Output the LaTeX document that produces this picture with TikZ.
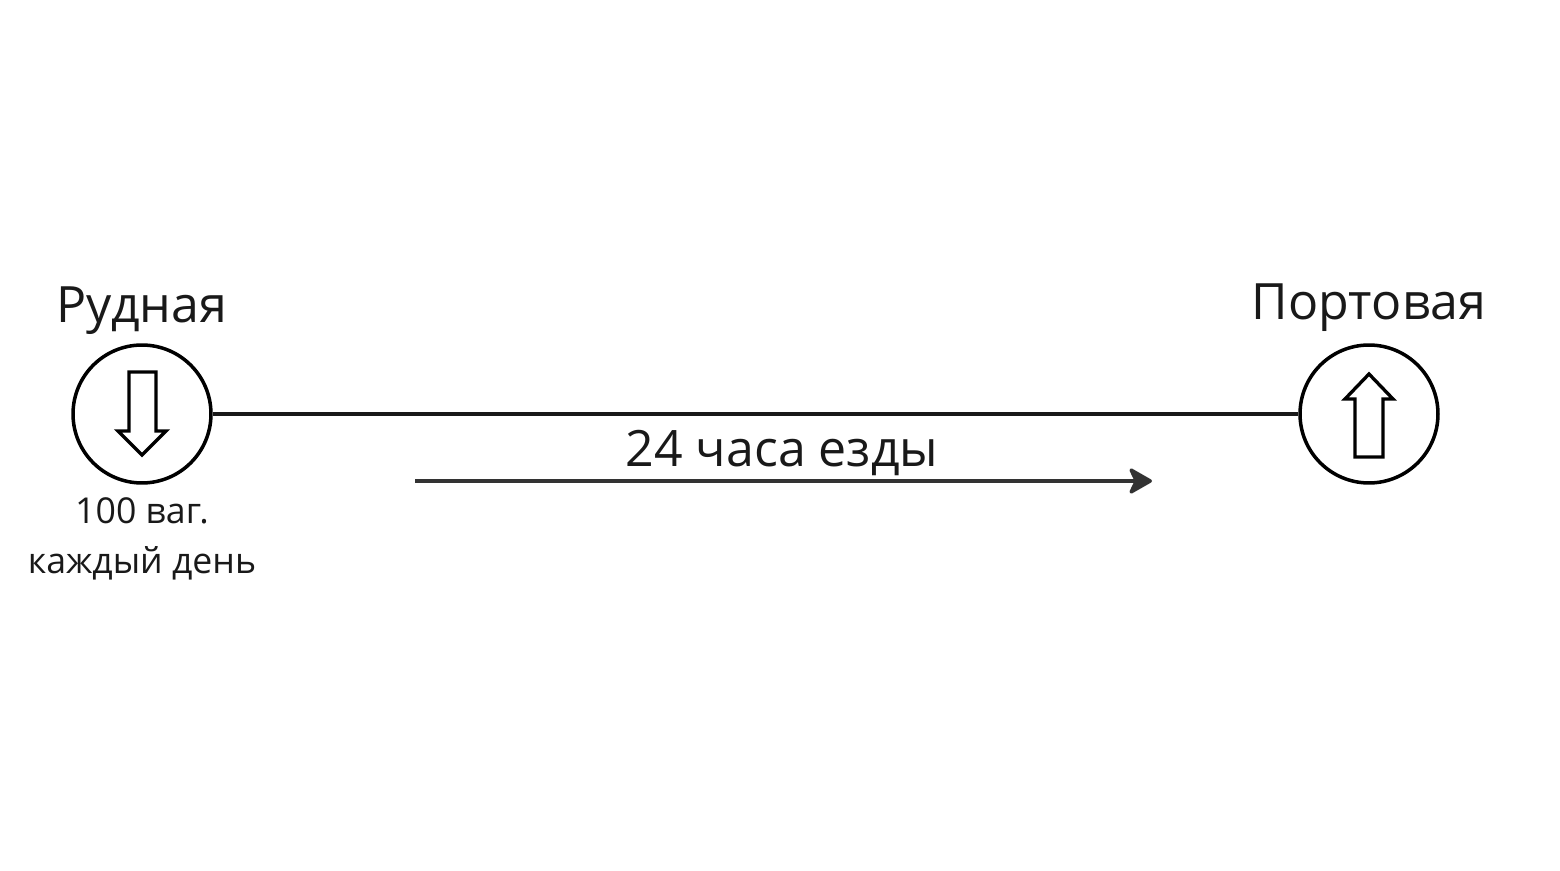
\documentclass[tikz,border=0pt]{standalone}
\usepackage{fontspec}
\setmainfont{Open Sans}
\usetikzlibrary{arrows.meta}

\begin{document}
\begin{tikzpicture}[x=0.02cm,y=-0.02cm]
\tikzset{
  station/.style={draw=black,line width=2pt,circle,minimum size=2.76cm,inner sep=0pt},
  bigname/.style={inner sep=0pt,text=black!90,font=\fontsize{28.5}{32}\selectfont},
  smalltext/.style={inner sep=0pt,align=center,text=black!90,font=\fontsize{20.3}{28.5}\selectfont},
  blockarrow/.style={draw=black,line width=1.9pt,line join=miter}
}
\useasboundingbox (0,0) rectangle (1560,871);
% stations
\node[station] (rud) at (142,414) {};
\node[station] (port) at (1369,414) {};
\node[bigname] (rudname) at (142,311) {Рудная};
\node[bigname] (portname) at (1369,308) {Портовая};
\node[smalltext] (load) at (142,539) {100 ваг.\\каждый день};
% track
\draw [black!90,line width=2pt] (rud.east) -- (port.west);
% travel time
\node[bigname] (time) at (782,453) {24 часа езды};
\coordinate (trip0) at (415,481);
\coordinate (trip1) at (1152,481);
\draw [black!80,line width=2pt,-{Stealth[length=15pt,width=17pt,inset=4pt,round]}] (trip0) -- (trip1);
% unloading / loading marks
\draw [blockarrow] (129,372) -- (156,372) -- (156,431) -- (166,431) -- (142,455)
  -- (118,431) -- (129,431) -- cycle;
\draw [blockarrow] (1369,374) -- (1393,399) -- (1383,399) -- (1383,457) -- (1355,457)
  -- (1355,399) -- (1345,399) -- cycle;
\end{tikzpicture}
\end{document}
